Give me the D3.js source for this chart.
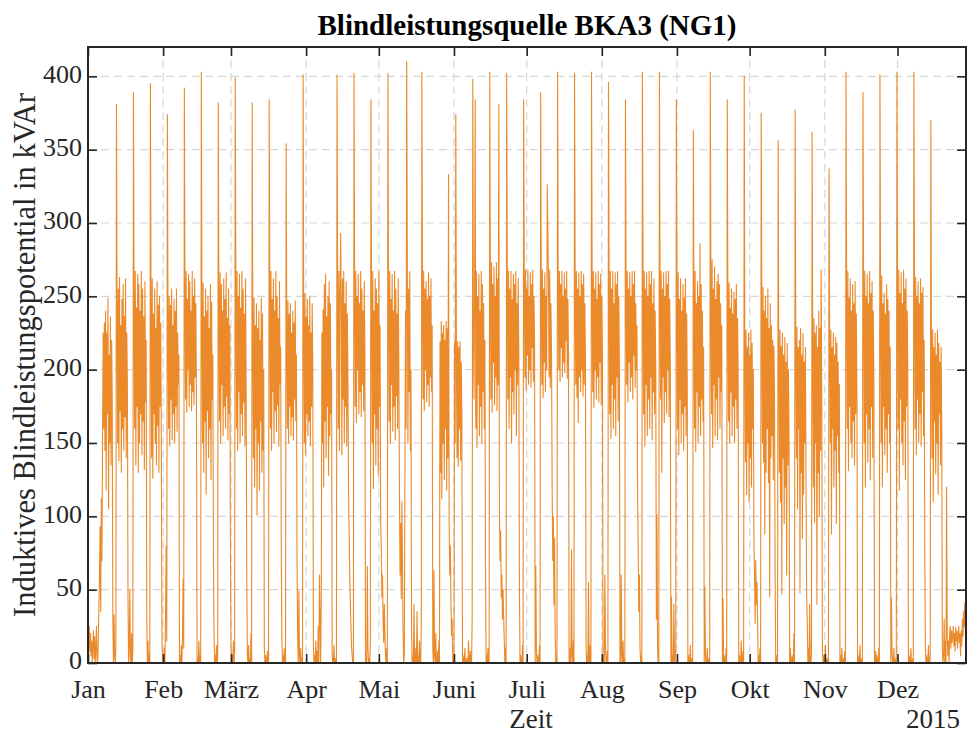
<!DOCTYPE html>
<html><head><meta charset="utf-8">
<script src="https://cdn.jsdelivr.net/npm/d3@7/dist/d3.min.js"></script>
<style>body{margin:0;background:#fff}</style>
</head><body>
<svg id="chart" width="967" height="734"></svg>
<script>
const titleText = "Blindleistungsquelle BKA3 (NG1)";
const yLabelText = "Induktives Blindleistungspotential in kVAr";
const xLabelText = "Zeit";
const yearText = "2015";
const monthLabels = ["Jan","Feb","März","Apr","Mai","Juni","Juli","Aug","Sep","Okt","Nov","Dez"];
const yTickValues = [0,50,100,150,200,250,300,350,400];
const seriesStartUTC = Date.UTC(2015,0,1,0,0);
const sampleHours = 6;
// inductive reactive power potential in kVAr, one value every 6 hours
const kvarValues = [
22,18,25,8,20,5,15,0,12,22,3,18,0,10,25,2,0,15,40,
60,93,35,112,70,150,225,160,232,145,240,118,225,170,249,105,210,150,236,135,220,180,30,0,33,5,0,12,
381,240,150,255,138,263,172,230,130,248,160,258,145,236,168,262,140,225,190,45,0,12,50,3,0,20,0,8,
389,250,160,267,135,242,175,265,130,258,150,240,170,267,142,255,165,236,132,260,178,220,30,0,15,0,5,0,
395,245,140,262,126,238,170,255,150,228,135,260,162,244,130,250,175,232,155,20,0,5,0,10,0,35,80,15,
374,235,160,250,148,244,180,255,152,230,170,248,150,240,175,255,158,225,190,210,0,5,0,12,0,20,57,10,
392,255,180,267,171,248,200,265,175,260,190,240,172,267,185,250,176,262,195,245,180,0,3,0,15,0,5,0,
403,245,150,259,130,236,165,255,115,240,172,250,140,228,160,258,125,246,180,210,71,20,0,5,0,12,0,3,
382,250,165,266,150,258,190,240,155,262,175,248,160,266,182,235,152,255,170,230,82,10,0,5,0,15,0,8,
399,260,160,267,145,250,185,265,150,242,170,267,155,255,178,238,148,262,190,59,5,0,12,0,3,0,20,0,
382,235,140,249,120,230,160,245,101,228,150,240,118,220,165,249,130,238,145,200,10,0,5,0,0,8,0,2,
384,255,160,267,145,248,185,262,150,240,172,267,158,250,176,235,148,260,190,215,74,15,0,5,0,10,0,0,
354,230,160,247,150,238,175,245,155,225,168,240,152,232,180,247,165,210,68,20,0,49,5,0,10,0,3,0,
401,240,150,252,142,236,170,248,155,230,165,250,148,225,175,245,200,10,0,5,0,15,0,8,0,25,0,60,
30,0,45,225,150,241,120,258,165,265,140,236,175,250,128,260,155,245,170,200,5,0,0,12,0,3,0,0,
401,255,160,267,145,250,293,240,142,262,180,267,150,245,175,260,148,238,195,115,90,60,40,25,11,5,0,0,
402,262,175,267,164,250,200,265,170,245,185,267,168,255,190,240,172,260,210,0,5,0,66,10,0,3,0,15,
384,250,150,267,119,240,170,262,135,255,160,245,128,267,175,230,96,80,45,60,30,14,40,20,5,0,10,0,
402,260,165,267,150,248,190,265,158,240,175,267,152,255,182,238,160,262,200,118,60,95,44,110,70,20,0,5,
120,240,160,410,267,150,255,185,267,145,200,20,0,5,0,40,0,10,0,0,35,0,5,0,15,0,0,25,
403,262,180,267,172,255,200,260,178,248,190,266,175,250,195,262,185,230,10,0,63,5,0,20,0,0,8,0,
15,0,219,130,233,112,225,150,230,125,220,160,233,118,228,140,333,96,60,80,40,19,30,0,5,0,219,150,
374,210,140,219,134,215,160,219,138,205,170,0,5,0,0,10,0,0,3,0,0,15,0,0,8,0,0,30,
398,230,180,255,384,160,267,147,250,190,265,155,240,175,267,150,258,185,245,160,220,68,0,5,0,10,0,0,
403,265,180,273,171,258,205,270,176,250,195,273,172,262,190,381,104,70,90,45,60,30,50,30,15,0,10,0,
402,262,180,267,160,255,195,267,150,248,185,265,170,258,200,267,155,245,190,262,210,52,0,5,0,0,12,0,
384,265,195,268,186,255,210,268,190,250,200,266,188,258,215,268,192,250,220,0,66,10,0,5,0,0,12,0,
389,262,190,268,181,255,205,266,185,250,200,326,293,258,195,268,188,245,210,118,70,100,40,85,20,0,5,0,
403,265,200,267,192,258,215,267,195,250,205,266,198,255,220,267,194,248,210,0,10,0,5,77,0,0,15,0,
402,262,190,267,181,255,164,266,195,250,185,267,200,258,182,265,190,245,205,10,0,5,0,55,0,12,0,0,
403,265,185,267,174,255,200,266,180,248,195,267,178,258,205,265,176,250,210,0,5,0,60,10,0,0,8,0,
396,262,170,267,153,255,190,267,160,245,180,266,155,258,195,267,165,250,200,0,0,60,5,0,15,0,3,0,
384,265,190,267,178,255,205,266,185,250,195,267,180,258,210,267,188,245,200,230,115,80,35,60,10,0,5,0,
403,262,170,267,148,255,190,266,155,250,180,267,160,258,195,267,152,245,185,262,170,240,200,30,101,10,0,0,
403,265,180,267,130,255,195,266,164,250,185,267,170,258,200,267,168,248,205,0,45,0,5,0,40,0,0,10,
384,255,160,266,142,248,180,262,150,240,170,258,145,249,175,262,155,238,190,0,5,0,0,12,0,3,0,0,
363,252,160,267,144,245,185,260,150,250,175,286,155,258,180,240,165,215,0,52,5,0,0,10,0,0,3,0,
403,262,170,275,147,255,190,270,155,248,180,260,152,265,195,258,160,245,185,230,0,44,0,5,0,0,10,0,
384,250,165,259,150,242,185,255,155,238,175,253,150,248,180,258,160,235,195,0,5,0,0,15,0,0,8,0,
400,220,137,227,115,215,150,225,110,210,140,227,120,218,160,200,85,60,27,70,40,55,30,0,5,0,10,0,
375,245,150,256,137,240,88,250,130,235,160,255,123,228,45,245,140,230,155,220,125,216,180,60,0,5,0,0,
356,220,130,227,110,216,47,225,140,210,95,222,120,205,60,218,135,200,150,0,10,0,0,5,0,0,20,0,
377,225,140,229,105,215,160,220,48,228,130,210,85,225,115,205,150,215,120,45,30,0,10,0,40,0,0,5,
362,220,120,235,96,225,150,230,40,215,130,240,100,228,145,268,175,10,0,5,0,0,12,0,0,3,0,0,
337,222,150,227,88,215,160,225,120,210,145,222,95,218,155,205,130,190,0,5,0,10,0,0,3,0,8,0,
403,255,160,267,131,249,175,262,150,240,140,258,165,245,135,260,170,238,185,0,5,0,0,12,0,0,3,0,
389,258,150,267,120,250,170,265,137,245,160,267,125,252,175,260,140,240,190,0,0,8,0,5,0,0,10,0,
401,250,150,264,120,245,175,252,142,238,160,258,130,248,170,240,150,215,0,44,5,0,0,10,0,0,3,0,
403,260,160,268,118,252,180,266,150,245,135,268,165,255,125,262,175,240,195,0,5,0,0,10,0,0,3,0,
403,256,160,263,142,250,180,260,150,245,170,262,148,252,185,256,155,220,74,10,0,5,0,0,12,0,0,3,
370,220,140,227,110,215,165,225,129,210,150,227,115,218,170,205,135,215,160,10,0,5,30,0,15,0,120,20,
5,15,0,20,25,10,22,14,18,25,12,20,8,24,15,22,10,18,25,14,20,5,22,12,30,18,35,25,
41,20,38
];

const svg = d3.select("#chart");
const pL = 88, pR = 966, pT = 47, pB = 663;
const fontFam = "'Liberation Serif','Times New Roman',Times,serif";
const axisColor = "#262626";
const tickFont = 26;

const points = kvarValues.map((v,i)=>({t:new Date(seriesStartUTC + i*sampleHours*3600e3), v}));
const x = d3.scaleUtc().domain(d3.extent(points, d=>d.t)).range([pL, pR]);
const y = d3.scaleLinear().domain([0,420]).range([pB, pT]);
const monthTicks = d3.utcMonth.range(new Date(seriesStartUTC), x.domain()[1]);

// grid
const grid = svg.append("g").attr("stroke","#d6d6d6").attr("stroke-width",1.2).attr("stroke-dasharray","8,5");
grid.selectAll("line.h").data(yTickValues.filter(v=>v>0)).join("line").attr("class","h")
  .attr("x1",pL).attr("x2",pR).attr("y1",d=>y(d)).attr("y2",d=>y(d));
grid.selectAll("line.v").data(monthTicks.slice(1)).join("line").attr("class","v")
  .attr("y1",pT).attr("y2",pB).attr("x1",d=>x(d)).attr("x2",d=>x(d));

// data line
svg.append("clipPath").attr("id","clip").append("rect")
  .attr("x",pL).attr("y",pT).attr("width",pR-pL).attr("height",pB-pT);
svg.append("path").datum(points)
  .attr("clip-path","url(#clip)")
  .attr("fill","none").attr("stroke","#EA8A2A").attr("stroke-width",1.1)
  .attr("stroke-linejoin","round")
  .attr("d", d3.line().x(d=>x(d.t)).y(d=>y(d.v)));

// axes
function styleAxis(g){
  g.select(".domain").remove();
  g.selectAll(".tick line").attr("stroke",axisColor).attr("stroke-width",1.6);
  g.selectAll(".tick text").attr("fill",axisColor).style("font-family",fontFam).style("font-size",tickFont+"px");
}
const xAxisG = svg.append("g").attr("transform",`translate(0,${pB})`)
  .call(d3.axisBottom(x).tickValues(monthTicks).tickSize(-9).tickPadding(14)
    .tickFormat(d=>monthLabels[d.getUTCMonth()]))
  .call(styleAxis);
xAxisG.selectAll(".tick text").attr("dy",null).attr("y",35);
svg.append("g").attr("transform",`translate(0,${pT})`)
  .call(d3.axisTop(x).tickValues(monthTicks).tickSize(-9).tickFormat(""))
  .call(styleAxis);
const yAxisG = svg.append("g").attr("transform",`translate(${pL},0)`)
  .call(d3.axisLeft(y).tickValues(yTickValues).tickSize(-9).tickPadding(6))
  .call(styleAxis);
yAxisG.selectAll(".tick text").attr("dy","0.23em");
svg.append("g").attr("transform",`translate(${pR},0)`)
  .call(d3.axisRight(y).tickValues(yTickValues).tickSize(-9).tickFormat(""))
  .call(styleAxis);

svg.append("rect").attr("x",pL).attr("y",pT).attr("width",pR-pL).attr("height",pB-pT)
  .attr("fill","none").attr("stroke",axisColor).attr("stroke-width",2);

// labels
svg.append("text").attr("x",(pL+pR)/2).attr("y",35).attr("text-anchor","middle")
  .style("font-family",fontFam).style("font-size","29px").style("font-weight","bold").attr("fill","#000")
  .text(titleText);
svg.append("text").attr("x",(pL+pR)/2+4).attr("y",728).attr("text-anchor","middle")
  .style("font-family",fontFam).style("font-size","27px").attr("fill",axisColor).text(xLabelText);
svg.append("text").attr("x",960).attr("y",728).attr("text-anchor","end")
  .style("font-family",fontFam).style("font-size","27px").attr("fill",axisColor).text(yearText);
svg.append("text").attr("transform",`translate(35,${(pT+pB)/2}) rotate(-90)`).attr("text-anchor","middle")
  .style("font-family",fontFam).style("font-size","30.5px").attr("fill",axisColor).text(yLabelText);
</script>
</body></html>
